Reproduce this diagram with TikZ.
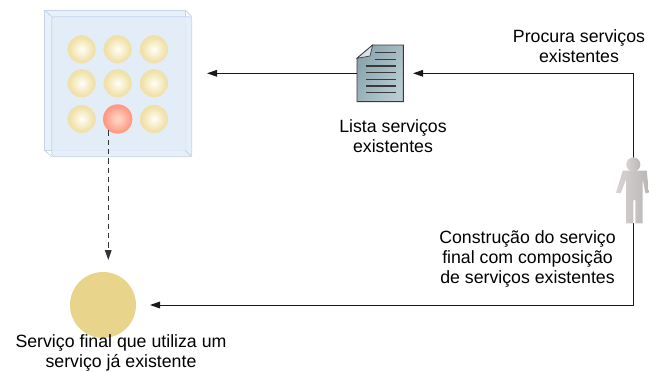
\documentclass[tikz,border=0pt]{standalone}
\usepackage{fontspec}
\setmainfont{Liberation Sans}
\usetikzlibrary{arrows.meta,calc}

\definecolor{panelFill}{HTML}{E3EDF8}
\definecolor{panelBack}{HTML}{E8F0FA}
\definecolor{panelLine}{HTML}{C3D4EC}
\definecolor{yIn}{HTML}{FDFAEE}
\definecolor{yMid}{HTML}{F2E3AE}
\definecolor{yOut}{HTML}{E8D18A}
\definecolor{rIn}{HTML}{FFD0C0}
\definecolor{rMid}{HTML}{FF9C86}
\definecolor{rOut}{HTML}{F6826A}
\definecolor{finalFill}{HTML}{E8D48A}
\definecolor{docDark}{HTML}{8AA4AF}
\definecolor{docLight}{HTML}{B8CBD2}
\definecolor{docLine}{HTML}{3A3A3A}
\definecolor{docFold}{HTML}{D8E3E7}
\definecolor{personLight}{HTML}{D8D4D4}
\definecolor{personDark}{HTML}{BAB6B6}

\pgfdeclareradialshading{yball}{\pgfpointorigin}{color(0bp)=(white); color(3bp)=(yIn); color(20bp)=(yMid); color(42bp)=(yOut); color(50bp)=(yOut)}
\pgfdeclareradialshading{rball}{\pgfpointorigin}{color(0bp)=(rIn); color(4bp)=(rIn); color(22bp)=(rMid); color(42bp)=(rOut); color(50bp)=(rOut)}

\tikzset{
  every node/.style={inner sep=0pt, outer sep=0pt},
  label text/.style={font=\fontsize{13.3}{15}\selectfont, align=center, text=black},
  ball/.style={circle, minimum size=21pt, shading=yball},
  redball/.style={circle, minimum size=22pt, shading=rball},
  conn/.style={draw=black!90, line width=0.75pt, -{Triangle[length=7.5pt,width=5pt]}},
  holder/.style={rectangle, draw=none},
}

\begin{document}
\begin{tikzpicture}[x=0.75pt, y=-0.75pt]
\useasboundingbox (0,0) rectangle (649,371);

% service pool: translucent box with depth
\node[holder, minimum width=110.6pt, minimum height=110pt] (panel) at (118,83.35) {};
\draw[panelLine, fill=panelBack, line width=0.6pt] (44.3,10) rectangle (185,150);
\draw[panelLine, fill=panelFill, fill opacity=0.9, line width=0.6pt, rounded corners=2pt]
  (51.7,16.7) rectangle (191.7,156.7);
\draw[panelLine, line width=0.6pt] (44.3,10) -- (51.7,16.7) (185,10) -- (191.7,16.7)
  (44.3,150) -- (51.7,156.7) (185,150) -- (191.7,156.7);

% available services
\node[ball] (s11) at (81.7,49.3) {};
\node[ball] (s12) at (117.7,49.3) {};
\node[ball] (s13) at (154,49.3) {};
\node[ball] (s21) at (81.7,83.3) {};
\node[ball] (s22) at (117.7,83.3) {};
\node[ball] (s23) at (154,83.3) {};
\node[ball] (s31) at (81.7,119) {};
\node[redball] (sel) at (117.7,119) {};
\node[ball] (s33) at (154,119) {};

% final composed service
\node[circle, fill=finalFill, minimum size=49.5pt] (final) at (103,305) {};

% service list document
\node[holder, minimum width=35pt, minimum height=42.5pt] (doc) at (380,73.3) {};
\draw[docLine, line width=0.7pt, left color=docDark, right color=docLight, shading angle=60]
  (372.7,45) -- (403.3,45) -- (403.3,101.7) -- (357,101.7) -- (357,58.3) -- cycle;
\draw[docLine, line width=0.5pt, fill=docFold] (357,58.3) -- (372.7,45) -- (370,56) -- cycle;
\foreach \yy in {52.7,59.3} \draw[docLine, line width=0.8pt] (375,\yy) -- (396,\yy);
\foreach \yy in {66,72.7,79.3,86,92.7} \draw[docLine, line width=0.8pt] (366,\yy) -- (396,\yy);

% user
\node[holder, minimum width=25pt, minimum height=48.75pt] (person) at (633,190.7) {};

% connectors
\draw[conn, shorten >=11.5pt] (doc.west) -- (doc.west -| panel.east);
\draw[conn, shorten >=7.3pt] (person.north) |- (doc.east);
\draw[conn, shorten >=10.5pt] (person.south) |- (final.east);
\draw[conn, dashed, dash pattern=on 4pt off 3pt, draw=black!80, shorten >=9pt]
  (sel.-130) -- (sel.-130 |- final.north);

% user figure
\shade[left color=personLight, right color=personDark]
  (622.7,170.7) -- (646.7,170.7) -- (649,192.7) -- (645.5,193.3) -- (642.7,179.3)
  -- (642.7,223.3) -- (635.3,223.3) -- (635.3,200) -- (633.3,200) -- (633.3,223.3)
  -- (626,223.3) -- (626,179.3) -- (620.7,193.3) -- (616,192.7) -- cycle;
\shade[left color=personLight, right color=personDark] (633.3,164.5) circle[radius=5.3pt];

% labels
\node[label text] (lblList) at (393,136) {Lista serviços\\existentes};
\node[label text] (lblSearch) at (579,46.5) {Procura serviços\\existentes};
\node[label text] (lblBuild) at (527.5,259) {Construção do serviço\\final com composição\\de serviços existentes};
\node[label text] (lblFinal) at (121,353) {Serviço final que utiliza um\\serviço já existente};
\end{tikzpicture}
\end{document}
